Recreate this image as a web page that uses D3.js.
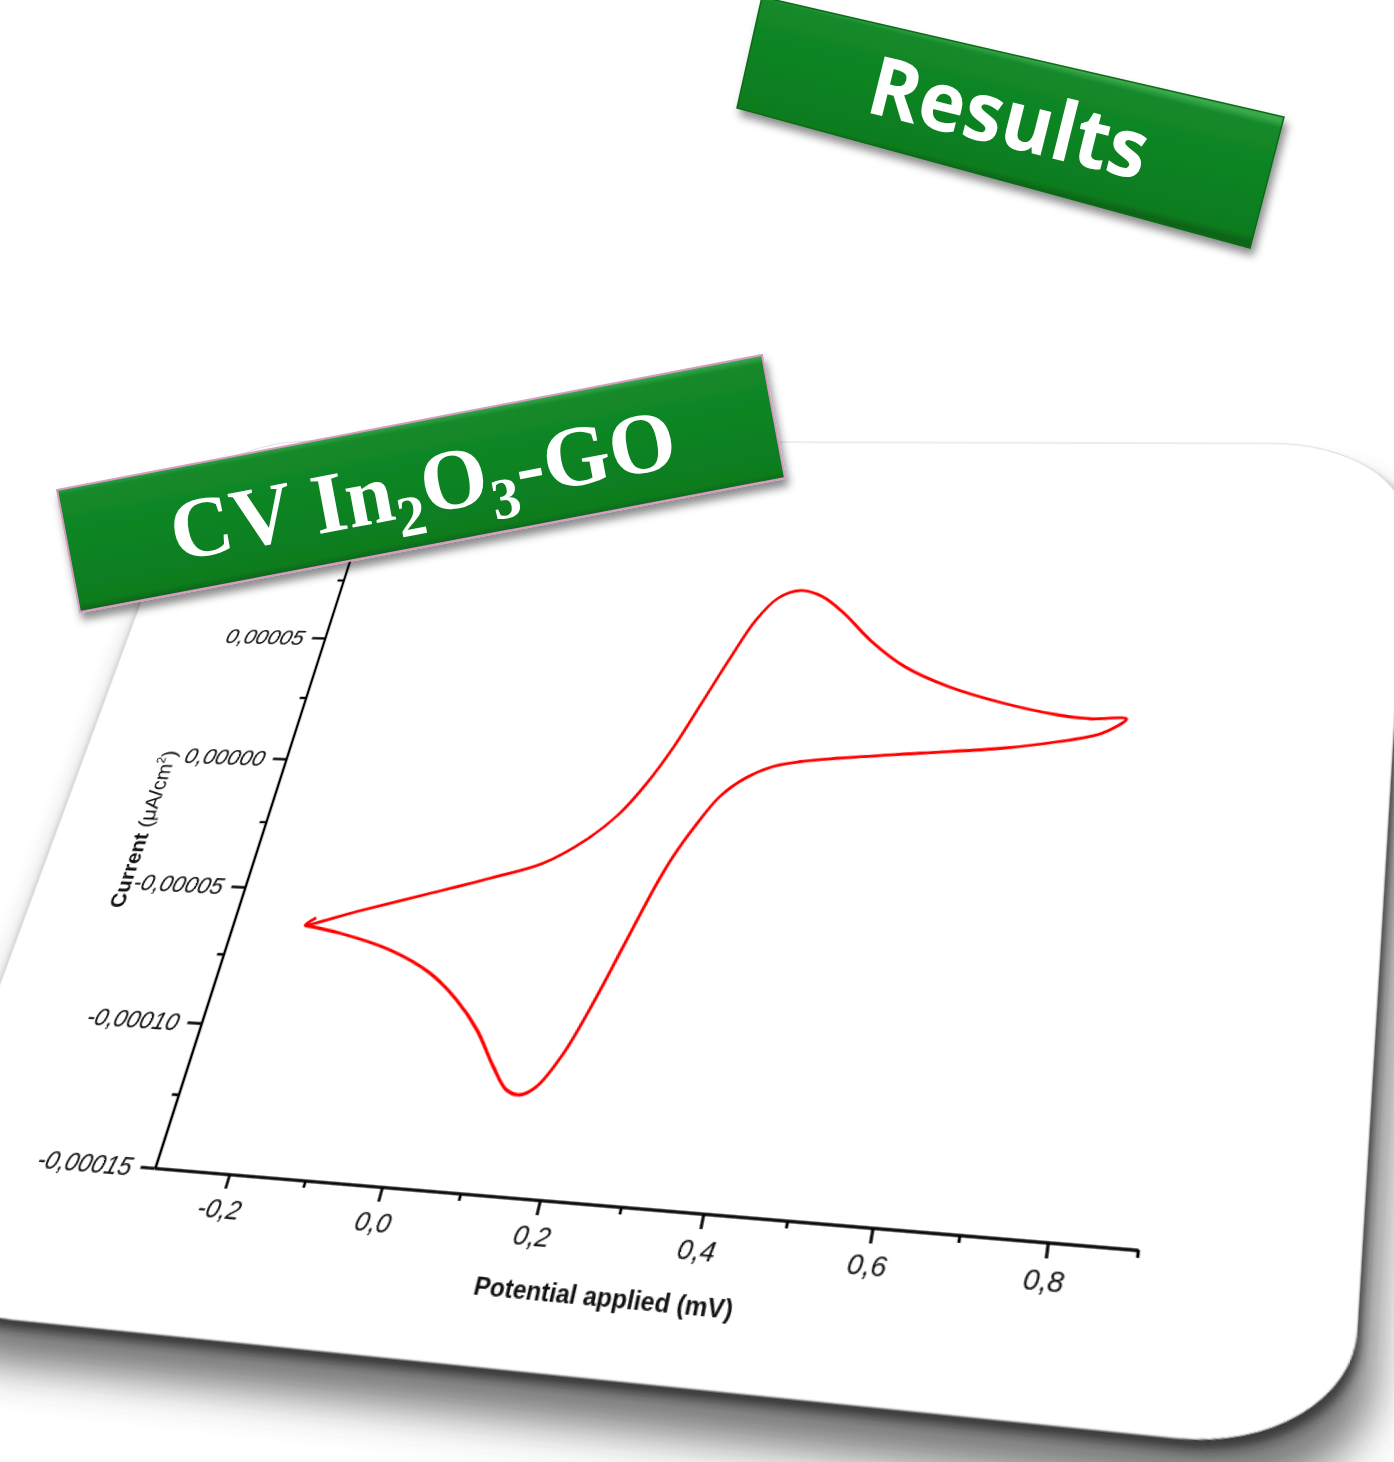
<!DOCTYPE html>
<html><head><meta charset="utf-8">
<script src="https://cdn.jsdelivr.net/npm/d3@7"></script>
<style>
html,body{margin:0;padding:0;background:#fff;}
body{width:1394px;height:1462px;overflow:hidden;position:relative;}
#plane{position:absolute;left:0;top:0;transform-origin:0 0;}
#overlay{position:absolute;left:0;top:0;}
</style></head><body>
<div id="plane"></div>
<svg id="overlay" width="1394" height="1462"></svg>
<script>
// ---------------- data ----------------
// cyclic voltammogram: potential (V) and current density
const potential = [
  -0.188, -0.200, -0.135, -0.051, 0.033, 0.099, 0.148, 0.184, 0.211, 0.236,
  0.260, 0.284, 0.309, 0.333, 0.361, 0.393, 0.427, 0.471, 0.521, 0.583,
  0.657, 0.729, 0.771, 0.815,
  0.787, 0.733, 0.665, 0.562, 0.457, 0.408, 0.373, 0.340, 0.312, 0.290,
  0.268, 0.255, 0.230, 0.211, 0.186, 0.162, 0.144, 0.125, 0.101, 0.068,
  0.031, -0.013, -0.075, -0.149, -0.200
];
const current = [
  -0.0000600, -0.0000628, -0.0000569, -0.0000496, -0.0000422, -0.0000357, -0.0000264, -0.0000161, -0.0000042, 0.0000102,
  0.0000275, 0.0000450, 0.0000615, 0.0000707, 0.0000740, 0.0000717, 0.0000650, 0.0000539, 0.0000442, 0.0000368,
  0.0000310, 0.0000271, 0.0000260, 0.0000264,
  0.0000207, 0.0000170, 0.0000139, 0.0000110, 0.0000080, 0.0000062, 0.0000039, -0.0000009, -0.0000081, -0.0000184,
  -0.0000311, -0.0000410, -0.0000642, -0.0000821, -0.0001020, -0.0001137, -0.0001168, -0.0001155, -0.0001081, -0.0000961,
  -0.0000862, -0.0000775, -0.0000701, -0.0000651, -0.0000630
];
const xDomain = [-0.3, 0.9];
const yDomain = [-0.00015, 0.0001];
const xMajorTicks = [-0.2, 0.0, 0.2, 0.4, 0.6, 0.8];
const xMinorTicks = [-0.1, 0.1, 0.3, 0.5, 0.7, 0.9];
const yMajorTicks = [-0.00015, -0.0001, -0.00005, 0, 0.00005];
const yMinorTicks = [-0.000125, -0.000075, -0.000025, 0.000025, 0.000075];
const xTitle = "Potential applied (mV)";
const yTitleMain = "Current";
const yTitleUnit = ["(μA/cm", "2", ")"];
const bannerTitle = ["CV In", "2", "O", "3", "-GO"];
const headerText = "Results";

// ---------------- flat chart plane ----------------
const M = 100, UX = 810, UY = 500;
const px0 = M + 0.25 * UX, py0 = M + 1.44 * UY;
const cardW = 1.45 * UX, cardH = 1.70 * UY;
const planeW = M + cardW + 200, planeH = M + cardH + 200;

const x = d3.scaleLinear().domain(xDomain).range([px0, px0 + UX]);
const y = d3.scaleLinear().domain(yDomain).range([py0, py0 - 1.25 * UY]);

// homography: flat plane -> photographed page
function solveHomography(src, dst) {
  const A = [], b = [];
  for (let i = 0; i < 4; i++) {
    const [sx, sy] = src[i], [dx, dy] = dst[i];
    A.push([sx, sy, 1, 0, 0, 0, -dx * sx, -dx * sy]); b.push(dx);
    A.push([0, 0, 0, sx, sy, 1, -dy * sx, -dy * sy]); b.push(dy);
  }
  const n = 8;
  for (let c = 0; c < n; c++) {
    let p = c;
    for (let r = c + 1; r < n; r++) if (Math.abs(A[r][c]) > Math.abs(A[p][c])) p = r;
    [A[c], A[p]] = [A[p], A[c]]; [b[c], b[p]] = [b[p], b[c]];
    for (let r = 0; r < n; r++) {
      if (r === c) continue;
      const f = A[r][c] / A[c][c];
      for (let k = c; k < n; k++) A[r][k] -= f * A[c][k];
      b[r] -= f * b[c];
    }
  }
  return b.map((v, i) => v / A[i][i]);
}
const srcPts = [[x(-0.3), y(-0.00015)], [x(0.9), y(-0.00015)], [x(-0.3), y(0.00005)], [x(0.9), y(0.00005)]];
const dstPts = [[155, 1168], [1138, 1250], [325, 638], [1201.7, 659.1]];
const h = solveHomography(srcPts, dstPts);
const plane = d3.select("#plane")
  .style("width", planeW + "px").style("height", planeH + "px")
  .style("transform", `matrix3d(${h[0]},${h[3]},0,${h[6]},${h[1]},${h[4]},0,${h[7]},0,0,1,0,${h[2]},${h[5]},0,1)`);

const svg = plane.append("svg").attr("width", planeW).attr("height", planeH);
const defs = svg.append("defs");
defs.append("filter").attr("id", "softShadow").attr("x", "-20%").attr("y", "-20%").attr("width", "140%").attr("height", "140%")
  .append("feGaussianBlur").attr("stdDeviation", 16);
defs.append("filter").attr("id", "tightShadow").attr("x", "-10%").attr("y", "-10%").attr("width", "120%").attr("height", "120%")
  .append("feGaussianBlur").attr("stdDeviation", 3);

// card with shadows
svg.append("rect").attr("x", M + 14).attr("y", M + 34).attr("width", cardW).attr("height", cardH)
  .attr("rx", 120).attr("ry", 85).attr("fill", "#3a3a3a").attr("opacity", 0.7).attr("filter", "url(#softShadow)");
svg.append("rect").attr("x", M + 3).attr("y", M + 7).attr("width", cardW).attr("height", cardH)
  .attr("rx", 120).attr("ry", 85).attr("fill", "#222").attr("opacity", 0.7).attr("filter", "url(#tightShadow)");
svg.append("rect").attr("x", M).attr("y", M).attr("width", cardW).attr("height", cardH)
  .attr("rx", 120).attr("ry", 85).attr("fill", "#fff").attr("stroke", "#d8d8d8").attr("stroke-width", 1);

// number formats with comma decimal and hyphen minus
const loc = d3.formatLocale({decimal: ",", thousands: ".", grouping: [3], currency: ["", ""], minus: "-"});
const fmtX = loc.format(".1f"), fmtY = loc.format(".5f");

function styleAxis(g) {
  g.selectAll("path.domain").attr("stroke", "#000").attr("stroke-width", 2.4);
  g.selectAll(".tick line").attr("stroke", "#000").attr("stroke-width", 2.4);
  g.selectAll(".tick text").attr("fill", "#111").attr("font-size", 22)
    .attr("font-family", "'Liberation Sans', Arial, sans-serif").attr("font-style", "italic");
}

const gx = svg.append("g").attr("transform", `translate(0,${py0})`);
gx.call(d3.axisBottom(x).tickValues(xMajorTicks).tickSize(12).tickSizeOuter(0).tickPadding(8).tickFormat(fmtX));
const gxm = gx.append("g").call(d3.axisBottom(x).tickValues(xMinorTicks).tickSize(6).tickSizeOuter(0).tickFormat(""));
gxm.select(".domain").remove();
styleAxis(gx);

const gy = svg.append("g").attr("transform", `translate(${px0},0)`);
gy.call(d3.axisLeft(y).tickValues(yMajorTicks).tickSize(13).tickSizeOuter(0).tickPadding(8).tickFormat(fmtY));
const gym = gy.append("g").call(d3.axisLeft(y).tickValues(yMinorTicks).tickSize(6).tickSizeOuter(0).tickFormat(""));
gym.select(".domain").remove();
styleAxis(gy);

// CV curve
const line = d3.line()
  .x((d, i) => x(potential[i]))
  .y((d, i) => y(current[i]))
  .curve(d3.curveCatmullRom.alpha(0.5));
svg.append("path").attr("d", line(potential)).attr("fill", "none")
  .attr("stroke", "#ff0000").attr("stroke-width", 2.8).attr("stroke-linejoin", "round");

// axis titles
svg.append("text").attr("x", x(0.301)).attr("y", py0 + 77).attr("text-anchor", "middle")
  .attr("font-family", "'Liberation Sans', Arial, sans-serif").attr("font-weight", "bold").attr("font-size", 20)
  .attr("fill", "#111").text(xTitle);
const yt = svg.append("text").attr("transform", `translate(${px0 - 110},${y(-0.0000294)}) rotate(-90)`)
  .attr("text-anchor", "middle").attr("font-family", "'Liberation Sans', Arial, sans-serif")
  .attr("font-size", 20).attr("fill", "#111");
yt.append("tspan").attr("font-weight", "bold").text(yTitleMain + " ");
yt.append("tspan").text(yTitleUnit[0]);
yt.append("tspan").attr("font-size", 12).attr("dy", -9).text(yTitleUnit[1]);
yt.append("tspan").attr("dy", 9).text(yTitleUnit[2]);

// ---------------- banners (screen space) ----------------
const ov = d3.select("#overlay");
const odefs = ov.append("defs");
const sh = odefs.append("filter").attr("id", "bannerShadow").attr("x", "-10%").attr("y", "-20%").attr("width", "125%").attr("height", "150%");
sh.append("feDropShadow").attr("dx", 3).attr("dy", 7).attr("stdDeviation", 4).attr("flood-color", "#000").attr("flood-opacity", 0.45);

function gradient(id, p1, p2) {
  const g = odefs.append("linearGradient").attr("id", id).attr("gradientUnits", "userSpaceOnUse")
    .attr("x1", p1[0]).attr("y1", p1[1]).attr("x2", p2[0]).attr("y2", p2[1]);
  [[0, "#3aa94a"], [0.06, "#14892a"], [0.5, "#0e8322"], [0.94, "#0c7c1f"], [1, "#0a6618"]]
    .forEach(([o, c]) => g.append("stop").attr("offset", o).attr("stop-color", c));
}
gradient("gRes", [1023, 57], [993, 178]);
gradient("gCV", [409, 422], [432, 545]);

const resPts = [[762, -3], [1284, 117], [1250, 248], [737, 108]];
ov.append("polygon").attr("points", resPts.map(p => p.join(",")).join(" "))
  .attr("fill", "url(#gRes)").attr("stroke", "#0b6a19").attr("stroke-width", 1.5).attr("filter", "url(#bannerShadow)");
ov.append("text").attr("transform", "translate(1002,146) rotate(14)").attr("text-anchor", "middle")
  .attr("font-family", "'Open Sans', 'DejaVu Sans', sans-serif").attr("font-weight", "bold")
  .attr("font-size", 82).attr("fill", "#fff").attr("textLength", 285).attr("lengthAdjust", "spacingAndGlyphs")
  .text(headerText);

const cvPts = [[57, 490], [762, 355], [785, 478], [80, 612]];
ov.append("polygon").attr("points", cvPts.map(p => p.join(",")).join(" "))
  .attr("fill", "url(#gCV)").attr("stroke", "#d59cc2").attr("stroke-width", 2).attr("filter", "url(#bannerShadow)");
const ct = ov.append("text").attr("transform", "translate(176,561) rotate(-10.7)")
  .attr("font-family", "'Liberation Serif', 'Times New Roman', serif").attr("font-weight", "bold")
  .attr("font-size", 86).attr("fill", "#fff");
ct.append("tspan").text(bannerTitle[0]);
ct.append("tspan").attr("font-size", 58).attr("dy", 19).text(bannerTitle[1]);
ct.append("tspan").attr("dy", -19).text(bannerTitle[2]);
ct.append("tspan").attr("font-size", 58).attr("dy", 19).text(bannerTitle[3]);
ct.append("tspan").attr("dy", -19).text(bannerTitle[4]);
</script>
</body></html>
